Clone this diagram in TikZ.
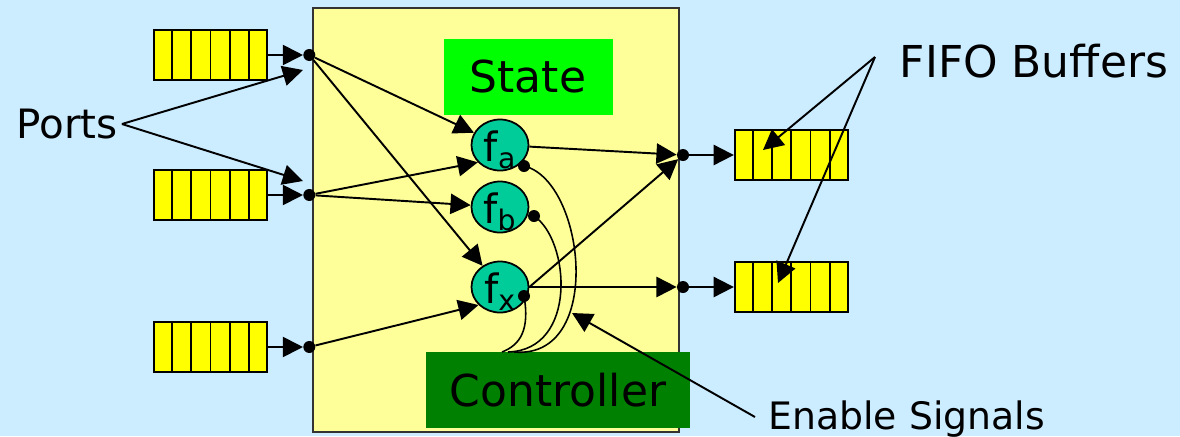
\documentclass[tikz,border=0pt]{standalone}
\usepackage{fontspec}
\setmainfont{DejaVu Sans}
\usetikzlibrary{arrows.meta}
\usetikzlibrary{calc}
\usetikzlibrary{positioning}
\usetikzlibrary{shapes.geometric}
\definecolor{skyback}{HTML}{CCECFF}
\definecolor{paleyellow}{HTML}{FFFF99}
\definecolor{statecol}{HTML}{00FF00}
\definecolor{ctrlcol}{HTML}{008000}
\definecolor{funccol}{HTML}{00CC99}
\definecolor{bufcol}{HTML}{FFFF00}
\tikzset {
  syntax path/.style = {
    draw = black,
    line width = 1.1pt
  },
  % path style with a big filled head
  arr/.style = {
    syntax path,
    -{Triangle[length=11.5pt,width=11.5pt]}
  },
  % path style with no arrows
  narr/.style = {
    syntax path
  },
  % enable signal curve
  sig/.style = {
    draw = black,
    line width = 0.9pt
  }
}
\tikzset {
  % queue of six cells
  fifo/.style = {
    draw = black,
    line width = 1.1pt,
    fill = bufcol,
    rectangle,
    minimum width = 22.6mm,
    minimum height = 10mm,
    inner sep = 0
  },
  % port dot
  port/.style = {
    circle,
    fill = black,
    minimum size = 2.4mm,
    inner sep = 0
  },
  % firing function
  func/.style = {
    ellipse,
    draw = black,
    line width = 1pt,
    fill = funccol,
    minimum width = 11.4mm,
    minimum height = 10.2mm,
    inner sep = 0,
    text height = 6.6mm,
    text depth = 0mm,
    font = \fontsize{23}{26}\selectfont
  },
  statebox/.style = {
    rectangle,
    fill = statecol,
    minimum width = 33.8mm,
    minimum height = 15.2mm,
    font = \fontsize{25}{30}\selectfont
  },
  ctrlbox/.style = {
    rectangle,
    fill = ctrlcol,
    minimum width = 52.8mm,
    minimum height = 15.2mm,
    font = \fontsize{25}{30}\selectfont
  },
  note/.style = {
    inner sep = 0,
    font = \fontsize{25}{30}\selectfont
  }
}
\begin{document}
\begin{tikzpicture}[x=0.2mm, y=-0.2mm]
    \useasboundingbox[fill=skyback] (0,0) rectangle (1180,436);
    \draw[draw=black!80, line width=0.8pt, fill=paleyellow] (313,8) rectangle (679,432);

    \node[statebox] (state) at (528,77) {State};

    % input queues and ports
    \node[fifo] (in1) at (210.5,55) {};
    \node[fifo] (in2) at (210.5,195) {};
    \node[fifo] (in3) at (210.5,347) {};
    \node[port] (pin1) [right=7mm of in1] {};
    \node[port] (pin2) [right=7mm of in2] {};
    \node[port] (pin3) [right=7mm of in3] {};

    % output ports and queues
    \node[port] (pout1) at (683,155) {};
    \node[port] (pout2) at (683,287) {};
    \node[fifo] (out1) [right=8.9mm of pout1] {};
    \node[fifo] (out2) [right=8.9mm of pout2] {};

    \foreach \q in {in1,in2,in3,out1,out2}
      \foreach \k in {1,...,5}
        \draw[narr] ($(\q.north west)!\k/6!(\q.north east)$)
          -- ($(\q.south west)!\k/6!(\q.south east)$);

    \draw[arr] (in1) -- (pin1);
    \draw[arr] (in2) -- (pin2);
    \draw[arr] (in3) -- (pin3);

    % functions
    \node[func] (fa) at (500,145) {f\textsubscript{a}};
    \node[func] (fb) at (500,207) {f\textsubscript{b}};
    \node[func] (fx) at (500,287) {f\textsubscript{x}};
    \node[port] (ena) at (524,166) {};
    \node[port] (enb) at (534,216) {};
    \node[port] (enx) at (524,296) {};

    \draw[arr] (pin1) -- (fa);
    \draw[arr] (pin1) -- (fx);
    \draw[arr] (pin2) -- (fa.218);
    \draw[arr] (pin2) -- (fb);
    \draw[arr] (pin3) -- (fx.220);

    \draw[arr] (fa) -- (pout1);
    \draw[arr] (fx.east) -- (pout1);
    \draw[arr] (fx) -- (pout2);
    \draw[arr] (pout1) -- (out1);
    \draw[arr] (pout2) -- (out2);

    \node[ctrlbox] (ctrl) at (558,390) {Controller};

    % enable signals
    \coordinate (ca) at (514,352);
    \coordinate (cb) at (508,352);
    \coordinate (cx) at (502,352);
    \draw[sig] (ena.center) .. controls (585,180) and (605,360) .. (ca);
    \draw[sig] (enb.center) .. controls (570,240) and (578,350) .. (cb);
    \draw[sig] (enx.center) .. controls (530,330) and (520,345) .. (cx);

    % labels
    \node[note, font=\fontsize{23}{28}\selectfont] (ports) at (67,124) {Ports};
    \coordinate (ptip1) at (303,70);
    \coordinate (ptip2) at (303,181);
    \draw[arr] ([xshift=0.8mm]ports.east) -- (ptip1);
    \draw[arr] ([xshift=0.8mm]ports.east) -- (ptip2);

    \node[note] (fifos) at (1034,61) {FIFO Buffers};
    \coordinate (ffoot) at (875,57);
    \coordinate (ftip1) at (763,150);
    \coordinate (ftip2) at (778,283);
    \draw[arr] (ffoot) -- (ftip1);
    \draw[arr] (ffoot) -- (ftip2);

    \node[note, font=\fontsize{21.5}{26}\selectfont, anchor=base west] (enable) at (768,429) {Enable Signals};
    \coordinate (efoot) at (755,417);
    \coordinate (etip) at (572,313);
    \draw[arr] (efoot) -- (etip);
\end{tikzpicture}
\end{document}
